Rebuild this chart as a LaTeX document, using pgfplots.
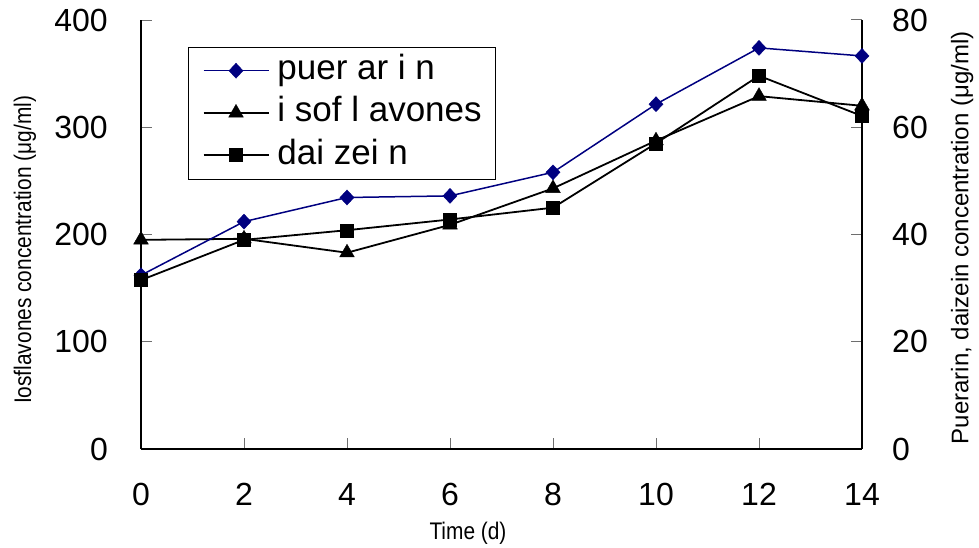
\documentclass[border=0pt]{standalone}
\usepackage{fontspec}
\setmainfont{Liberation Sans}
\newfontfamily\narrowfont[FakeStretch=0.87]{Liberation Sans}
\usepackage{pgfplots}
\usepackage{pgfplotstable}
\pgfplotsset{compat=1.18}
\definecolor{navyline}{RGB}{0,0,128}
\definecolor{tickgray}{RGB}{110,110,110}

% isoflavones, left axis (ug/ml)
\pgfplotstableread{
t iso
0 195
2 196
4 183
6 209
8 243
10 287.5
12 329
14 320
}\isotable

% puerarin and daizein, right axis (ug/ml)
\pgfplotstableread{
t pue dai
0 32.4 31.5
2 42.4 39.0
4 46.9 40.8
6 47.2 42.8
8 51.6 45.0
10 64.3 57.0
12 74.8 69.6
14 73.3 62.1
}\rtable

\pgfplotsset{
  base/.style={
    scale only axis, width=721bp, height=429bp,
    at={(141bp,99bp)}, anchor=south west,
    xmin=0, xmax=14, clip=false,
    tick align=inside, major tick length=11bp,
    every tick/.style={tickgray, line width=1bp},
    axis line style={line width=2bp},
    ticklabel style={font=\fontsize{32bp}{36bp}\selectfont, inner sep=0bp},
    /pgf/number format/assume math mode=true,
  },
  isostyle/.style={black, line width=1.8bp, mark=triangle*, mark size=8.5bp, mark options={solid, line width=0.4bp}},
  puestyle/.style={navyline, line width=1.5bp, mark=diamond*, mark size=7.5bp, mark options={solid, line width=0.4bp, xscale=1.25}},
  daistyle/.style={black, line width=1.8bp, mark=square*, mark size=6.5bp, mark options={solid, line width=0.4bp}},
}

\begin{document}
\begin{tikzpicture}
\useasboundingbox (0,0) rectangle (979bp,548bp);

\begin{axis}[base,
  axis x line*=bottom, axis y line*=left,
  ymin=0, ymax=400,
  xtick={2,4,...,12}, extra x ticks={0,14},
  ytick={100,200,...,400}, extra y ticks={0},
  extra x tick style={major tick length=0bp},
  extra y tick style={major tick length=0bp},
  xticklabel style={anchor=center, yshift=-45bp},
  yticklabel style={anchor=east, xshift=-33bp},
  xlabel={Time (d)},
  xlabel style={font=\narrowfont\fontsize{24bp}{28bp}\selectfont, at={(axis description cs:0.4535,-0.196)}, anchor=center, inner sep=0bp},
  ylabel={Iosflavones concentration (μg/ml)},
  ylabel style={font=\narrowfont\fontsize{24bp}{28bp}\selectfont, at={(axis description cs:-0.161,0.464)}, anchor=center, inner sep=0bp},
]
\addplot[isostyle] table[x=t, y=iso] {\isotable};
\end{axis}

\begin{axis}[base,
  hide x axis, axis y line*=right,
  ymin=0, ymax=80,
  ytick={20,40,...,80}, extra y ticks={0},
  extra y tick style={major tick length=0bp},
  yticklabel style={anchor=west, xshift=30bp},
  ylabel={Puerarin, daizein concentration (μg/ml)},
  ylabel style={font=\fontsize{24bp}{28bp}\selectfont, at={(axis description cs:1.139,0.492)}, anchor=center, inner sep=0bp},
  legend style={at={(axis description cs:0.0652,0.937)}, anchor=north west,
    draw=black, line width=1.2bp, inner xsep=14bp, inner ysep=2.5bp,
    font=\fontsize{35bp}{40bp}\selectfont, row sep=0bp,
    /tikz/every odd column/.append style={column sep=8bp},
    nodes={inner xsep=0bp, inner ysep=4.6bp, text height=25bp, text depth=8bp, anchor=base west}},
  legend cell align=left,
  legend image code/.code={\draw[mark repeat=2, mark phase=2, #1] plot coordinates {(0bp,9bp) (32.5bp,9bp) (65bp,9bp)};},
]
\addplot[puestyle] table[x=t, y=pue] {\rtable};
\addlegendentry{puer ar i n}
\addlegendimage{isostyle}
\addlegendentry{i sof l avones}
\addplot[daistyle] table[x=t, y=dai] {\rtable};
\addlegendentry{dai zei n}
\end{axis}
\end{tikzpicture}
\end{document}
